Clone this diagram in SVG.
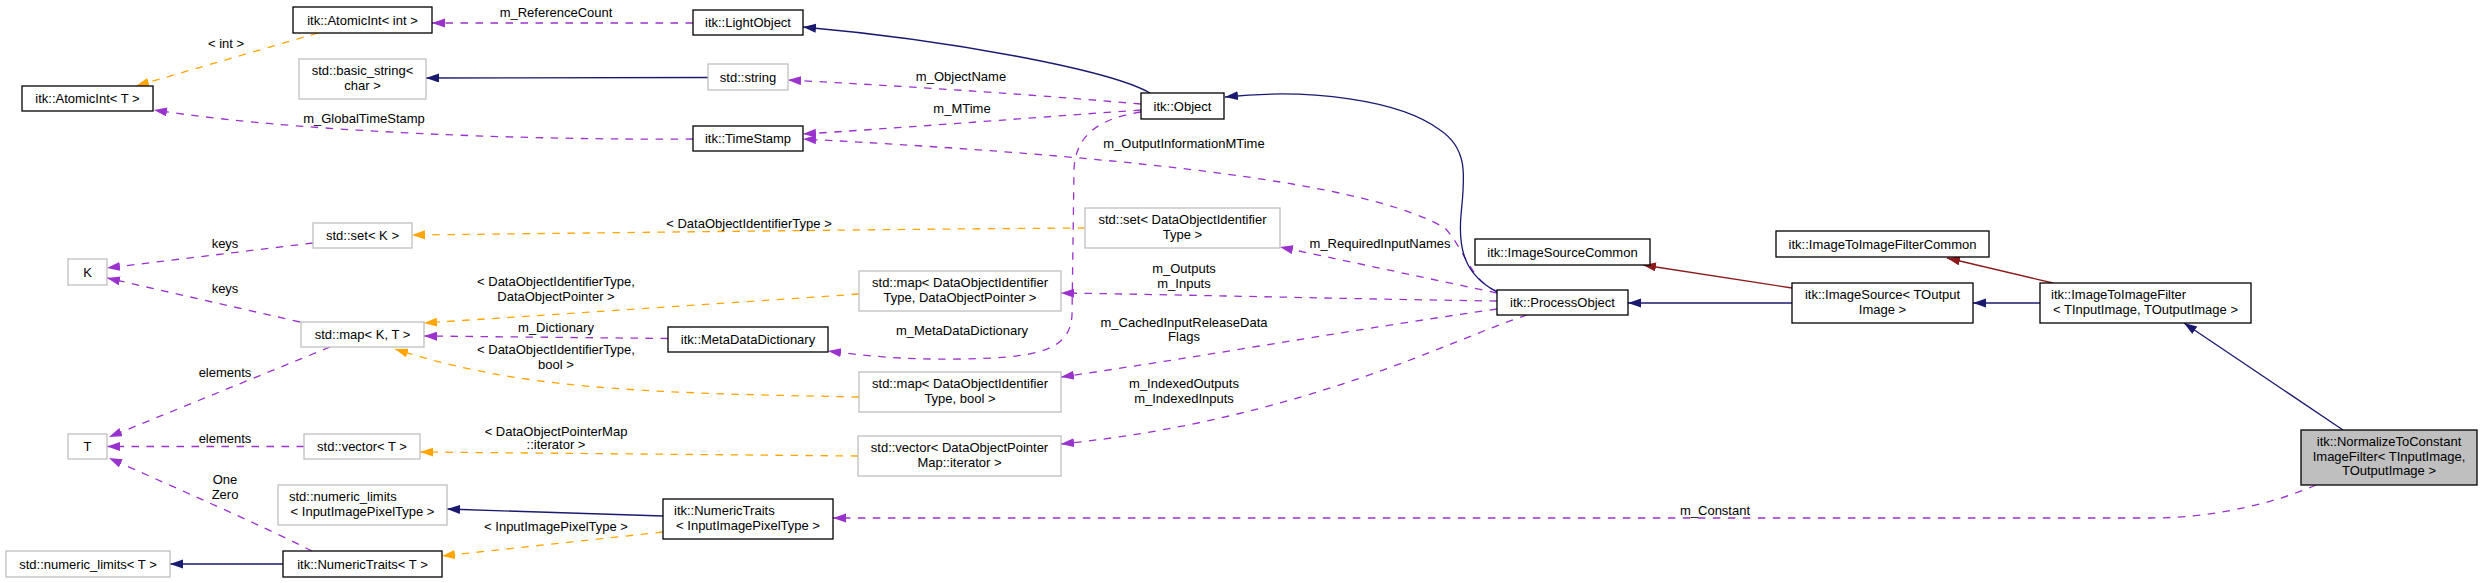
<svg xmlns="http://www.w3.org/2000/svg" width="2483" height="583" viewBox="0 0 2483 583">
<style>
text{font-family:"Liberation Sans",Arial,sans-serif;font-size:13px;fill:#000}
.c{text-anchor:middle}
.s{text-anchor:start}
.nb{fill:#fff;stroke:#000;stroke-width:1.3}
.ng{fill:#fff;stroke:#bfbfbf;stroke-width:1.3}
.nf{fill:#bfbfbf;stroke:#000;stroke-width:1.3}
.e{fill:none;stroke-width:1.3}
.u{stroke:#9a32cd;stroke-dasharray:7.5,7.5;marker-end:url(#ap)}
.t{stroke:#ffa500;stroke-dasharray:7.5,7.5;marker-end:url(#ao)}
.i{stroke:#191970;marker-end:url(#ab)}
.r{stroke:#8b1a1a;marker-end:url(#ar)}
</style>
<defs>
<marker id="ap" markerUnits="userSpaceOnUse" markerWidth="14" markerHeight="10" refX="13" refY="4.5" orient="auto"><path d="M0,0L13,4.5L0,9z" fill="#9a32cd"/></marker>
<marker id="ao" markerUnits="userSpaceOnUse" markerWidth="14" markerHeight="10" refX="13" refY="4.5" orient="auto"><path d="M0,0L13,4.5L0,9z" fill="#ffa500"/></marker>
<marker id="ab" markerUnits="userSpaceOnUse" markerWidth="14" markerHeight="10" refX="13" refY="4.5" orient="auto"><path d="M0,0L13,4.5L0,9z" fill="#191970"/></marker>
<marker id="ar" markerUnits="userSpaceOnUse" markerWidth="14" markerHeight="10" refX="13" refY="4.5" orient="auto"><path d="M0,0L13,4.5L0,9z" fill="#8b1a1a"/></marker>
</defs>
<rect width="2483" height="583" fill="#fff"/>
<g id="connectors">
<path class="e u" d="M693,23L432,23"/>
<text class="c" x="556" y="16.5">m_ReferenceCount</text>
<path class="e t" d="M318,33L136,86"/>
<text class="c" x="226" y="47.5">&lt; int &gt;</text>
<path class="e i" d="M708,77.5L426,78"/>
<path class="e u" d="M693,139C600,140 330,137 154,110"/>
<text class="c" x="364" y="122.5">m_GlobalTimeStamp</text>
<path class="e i" d="M1150,93C1110,70 950,40 803,27"/>
<path class="e u" d="M1141,104C1000,92 900,86 788,80"/>
<text class="c" x="961" y="80.5">m_ObjectName</text>
<path class="e u" d="M1141,110C1000,120 900,128 803,134"/>
<text class="c" x="962" y="112.5">m_MTime</text>
<path class="e u" d="M1497,291C1472,283 1465,250 1445,228C1380,190 1200,160 803,139"/>
<text class="c" x="1184" y="147.5">m_OutputInformationMTime</text>
<path class="e i" d="M1497,292C1465,275 1458,250 1461,215C1464,180 1470,150 1440,130C1400,100 1310,88 1225,97"/>
<path class="e u" d="M1497,293L1280,247"/>
<text class="c" x="1380" y="247.5">m_RequiredInputNames</text>
<path class="e u" d="M1497,301C1350,299 1200,295 1061,293"/>
<text class="c" x="1184" y="272.5">m_Outputs</text>
<text class="c" x="1184" y="287.5">m_Inputs</text>
<path class="e u" d="M1497,309C1350,330 1200,357 1061,377"/>
<text class="c" x="1184" y="327">m_CachedInputReleaseData</text>
<text class="c" x="1184" y="341">Flags</text>
<path class="e u" d="M1527,315C1450,340 1300,420 1061,444"/>
<text class="c" x="1184" y="387.5">m_IndexedOutputs</text>
<text class="c" x="1184" y="402.5">m_IndexedInputs</text>
<path class="e u" d="M1141,112C1100,118 1075,135 1074,170L1072,315C1070,350 1040,358 960,359C900,360 860,355 828,351"/>
<text class="c" x="962" y="335">m_MetaDataDictionary</text>
<path class="e u" d="M668,338.5L424,336"/>
<text class="c" x="556" y="332">m_Dictionary</text>
<path class="e t" d="M1085,228C900,229 600,233 412,235"/>
<text class="c" x="749" y="227.5">&lt; DataObjectIdentifierType &gt;</text>
<path class="e t" d="M859,294C700,305 500,318 424,323"/>
<text class="c" x="556" y="286">&lt; DataObjectIdentifierType,</text>
<text class="c" x="556" y="300.5">DataObjectPointer &gt;</text>
<path class="e t" d="M859,397C650,393 520,390 395,349"/>
<text class="c" x="556" y="353.5">&lt; DataObjectIdentifierType,</text>
<text class="c" x="556" y="368.5">bool &gt;</text>
<path class="e t" d="M858,456L420,452"/>
<text class="c" x="556" y="435.5">&lt; DataObjectPointerMap</text>
<text class="c" x="556" y="449">::iterator &gt;</text>
<path class="e u" d="M313,243L107,268"/>
<text class="c" x="225" y="247.5">keys</text>
<path class="e u" d="M300,322L107,278"/>
<text class="c" x="225" y="292.5">keys</text>
<path class="e u" d="M330,347L109,437"/>
<text class="c" x="225" y="376.5">elements</text>
<path class="e u" d="M304,446.5L107,446.5"/>
<text class="c" x="225" y="442.5">elements</text>
<path class="e u" d="M312,551C250,520 180,490 109,458"/>
<text class="c" x="225" y="483.5">One</text>
<text class="c" x="225" y="498.5">Zero</text>
<path class="e i" d="M283,564L170,564"/>
<path class="e i" d="M663,516L447,509"/>
<path class="e t" d="M663,532L442,556"/>
<text class="c" x="556" y="531">&lt; InputImagePixelType &gt;</text>
<path class="e u" d="M2316,485C2270,505 2210,518 2150,518L833,518"/>
<text class="c" x="1715" y="515">m_Constant</text>
<path class="e i" d="M1792,303L1628,303"/>
<path class="e r" d="M1792,288L1643,265"/>
<path class="e i" d="M2040,303L1973,303"/>
<path class="e r" d="M2053,283L1947,258"/>
<path class="e i" d="M2343,430L2184,323"/>
</g>
<g id="n_atomic_int"><rect class="nb" x="293" y="7" width="139" height="26"/><text class="c" x="362.5" y="24.5">itk::AtomicInt&lt; int &gt;</text></g>
<g id="n_atomic_T"><rect class="nb" x="22" y="86" width="131" height="25"/><text class="c" x="87.5" y="103">itk::AtomicInt&lt; T &gt;</text></g>
<g id="n_basic_string"><rect class="ng" x="299" y="59" width="127" height="40"/><text class="c" x="362.5" y="75">std::basic_string&lt;</text><text class="c" x="362.5" y="90">char &gt;</text></g>
<g id="n_set_K"><rect class="ng" x="313" y="223" width="99" height="25"/><text class="c" x="362.5" y="240">std::set&lt; K &gt;</text></g>
<g id="n_K"><rect class="ng" x="68" y="259" width="39" height="26"/><text class="c" x="87.5" y="276.5">K</text></g>
<g id="n_map_KT"><rect class="ng" x="301" y="322" width="123" height="25"/><text class="c" x="362.5" y="339">std::map&lt; K, T &gt;</text></g>
<g id="n_T"><rect class="ng" x="68" y="434" width="39" height="25"/><text class="c" x="87.5" y="451">T</text></g>
<g id="n_vector_T"><rect class="ng" x="304" y="434" width="116" height="25"/><text class="c" x="362" y="451">std::vector&lt; T &gt;</text></g>
<g id="n_numlim_iipt"><rect class="ng" x="278" y="485" width="169" height="40"/><text class="s" x="289" y="501">std::numeric_limits</text><text class="c" x="362.5" y="516">&lt; InputImagePixelType &gt;</text></g>
<g id="n_numlim_T"><rect class="ng" x="6" y="551" width="164" height="26"/><text class="c" x="88" y="568.5">std::numeric_limits&lt; T &gt;</text></g>
<g id="n_numtraits_T"><rect class="nb" x="283" y="551" width="159" height="26"/><text class="c" x="362.5" y="568.5">itk::NumericTraits&lt; T &gt;</text></g>
<g id="n_lightobject"><rect class="nb" x="693" y="10" width="110" height="25"/><text class="c" x="748" y="27">itk::LightObject</text></g>
<g id="n_string"><rect class="ng" x="708" y="64" width="80" height="26"/><text class="c" x="748" y="81.5">std::string</text></g>
<g id="n_timestamp"><rect class="nb" x="693" y="126" width="110" height="25"/><text class="c" x="748" y="143">itk::TimeStamp</text></g>
<g id="n_metadata"><rect class="nb" x="668" y="327" width="160" height="25"/><text class="c" x="748" y="344">itk::MetaDataDictionary</text></g>
<g id="n_numtraits_iipt"><rect class="nb" x="663" y="499" width="170" height="40"/><text class="s" x="674" y="515">itk::NumericTraits</text><text class="c" x="748" y="529.5">&lt; InputImagePixelType &gt;</text></g>
<g id="n_object"><rect class="nb" x="1141" y="93" width="83" height="26"/><text class="c" x="1182.5" y="110.5">itk::Object</text></g>
<g id="n_set_doit"><rect class="ng" x="1085" y="208" width="195" height="40"/><text class="c" x="1182.5" y="224">std::set&lt; DataObjectIdentifier</text><text class="c" x="1182.5" y="239">Type &gt;</text></g>
<g id="n_map_dop"><rect class="ng" x="859" y="271" width="202" height="40"/><text class="c" x="960" y="287">std::map&lt; DataObjectIdentifier</text><text class="c" x="960" y="302">Type, DataObjectPointer &gt;</text></g>
<g id="n_map_bool"><rect class="ng" x="859" y="372" width="202" height="40"/><text class="c" x="960" y="388">std::map&lt; DataObjectIdentifier</text><text class="c" x="960" y="403">Type, bool &gt;</text></g>
<g id="n_vector_dopm"><rect class="ng" x="858" y="436" width="203" height="40"/><text class="c" x="959.5" y="452">std::vector&lt; DataObjectPointer</text><text class="c" x="959.5" y="467">Map::iterator &gt;</text></g>
<g id="n_processobject"><rect class="nb" x="1497" y="290" width="131" height="25"/><text class="c" x="1562.5" y="307">itk::ProcessObject</text></g>
<g id="n_imagesourcecommon"><rect class="nb" x="1475" y="239" width="175" height="26"/><text class="c" x="1562.5" y="256.5">itk::ImageSourceCommon</text></g>
<g id="n_imagesource"><rect class="nb" x="1792" y="283" width="181" height="40"/><text class="c" x="1882.5" y="299">itk::ImageSource&lt; TOutput</text><text class="c" x="1882.5" y="314">Image &gt;</text></g>
<g id="n_itifcommon"><rect class="nb" x="1776" y="231" width="213" height="26"/><text class="c" x="1882.5" y="248.5">itk::ImageToImageFilterCommon</text></g>
<g id="n_itif"><rect class="nb" x="2040" y="283" width="211" height="40"/><text class="s" x="2051" y="299">itk::ImageToImageFilter</text><text class="c" x="2145.5" y="314">&lt; TInputImage, TOutputImage &gt;</text></g>
<g id="n_normalize"><rect class="nf" x="2301" y="430" width="176" height="55"/><text class="c" x="2389" y="446">itk::NormalizeToConstant</text><text class="c" x="2389" y="460.5">ImageFilter&lt; TInputImage,</text><text class="c" x="2389" y="475">TOutputImage &gt;</text></g>
</svg>
